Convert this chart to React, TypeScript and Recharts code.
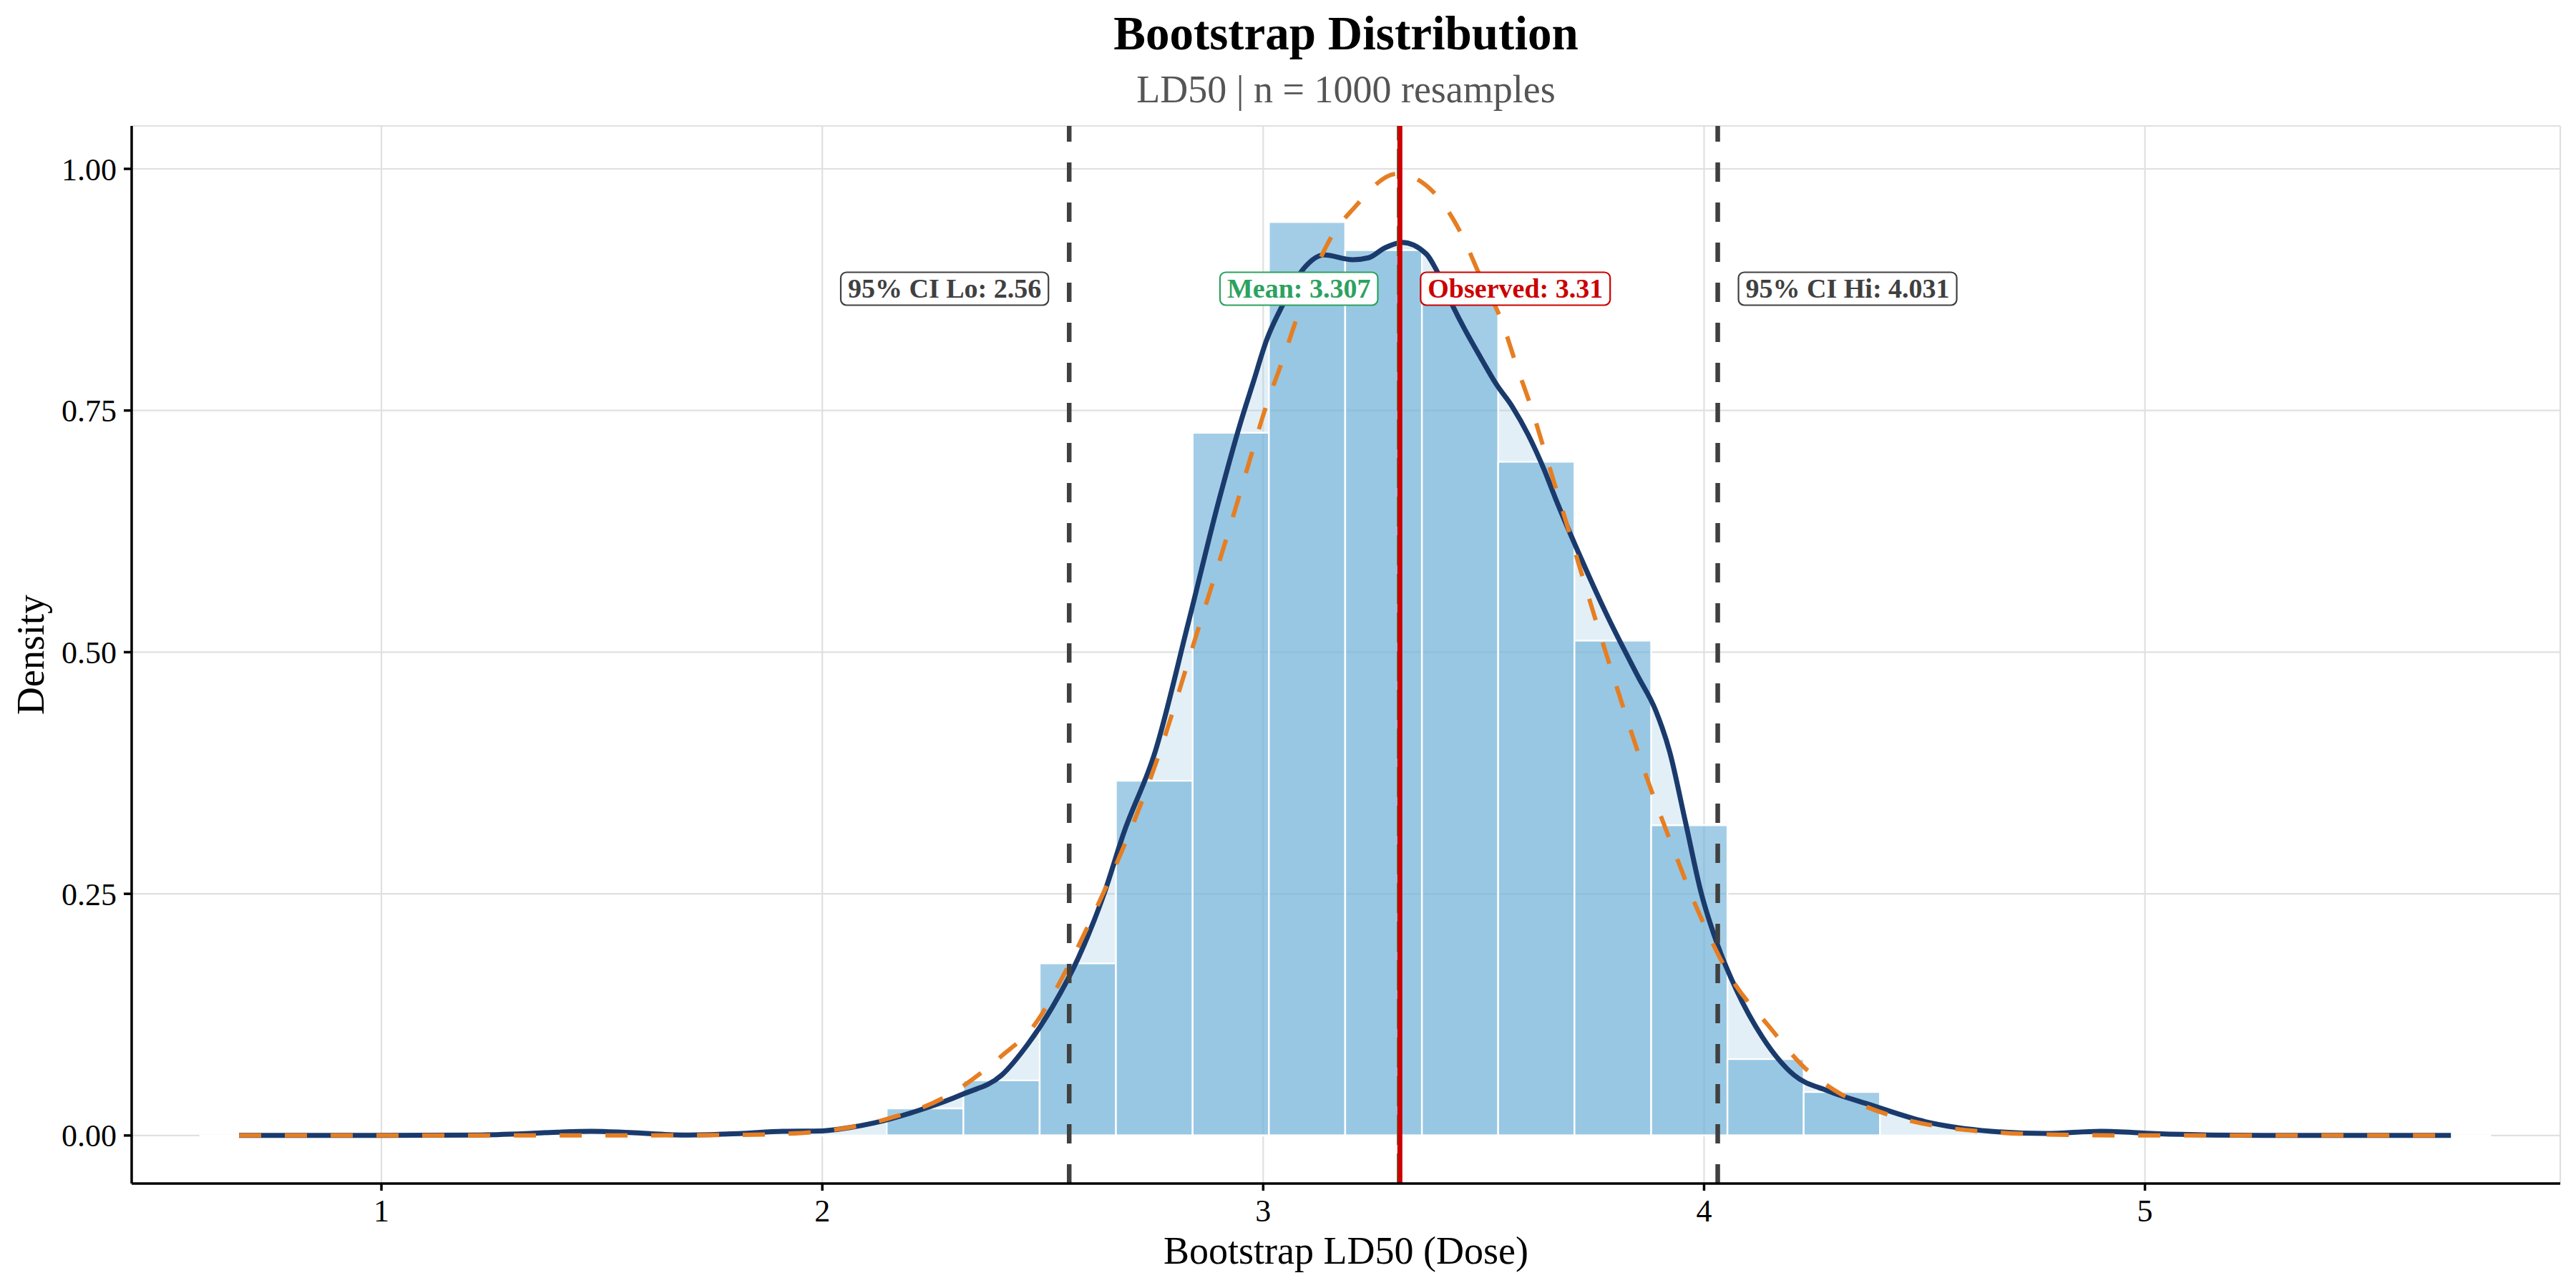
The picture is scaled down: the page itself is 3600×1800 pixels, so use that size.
import React from 'react';
import {
  ComposedChart,
  Line,
  Area,
  XAxis,
  YAxis,
  CartesianGrid,
  ReferenceLine,
  ReferenceArea,
  ReferenceDot,
} from 'recharts';

// ---------- data ----------
const xTicks = [1, 2, 3, 4, 5];
const yTicks = [0, 0.25, 0.5, 0.75, 1.0];
const xDomain = [0.4335, 5.942];
const yDomain = [-0.0497, 1.0444];

// histogram bins (edges) and densities
const binEdges = [2.146, 2.32, 2.493, 2.666, 2.84, 3.013, 3.186, 3.36, 3.533, 3.706, 3.88, 4.053, 4.226, 4.399];
const binDensity = [0.028, 0.057, 0.178, 0.367, 0.727, 0.945, 0.916, 0.866, 0.697, 0.512, 0.321, 0.079, 0.045];
const histRange = [0.587, 5.785];

// kernel density estimate
const kdeX = [0.677, 1.0, 1.215, 1.327, 1.4, 1.476, 1.563, 1.687, 1.811, 1.911, 2.0, 2.06, 2.117, 2.219, 2.32, 2.407, 2.465, 2.522, 2.581, 2.639, 2.683, 2.755, 2.83, 2.899, 2.949, 2.978, 3.007, 3.044, 3.094, 3.138, 3.203, 3.239, 3.275, 3.315, 3.37, 3.391, 3.427, 3.456, 3.493, 3.529, 3.565, 3.601, 3.638, 3.663, 3.72, 3.78, 3.85, 3.89, 3.922, 3.957, 3.994, 4.03, 4.074, 4.132, 4.204, 4.279, 4.378, 4.502, 4.651, 4.775, 4.9, 5.023, 5.148, 5.3, 5.694];
const kdeY = [0, 0, 0.0005, 0.002, 0.0035, 0.0044, 0.003, 0.0005, 0.002, 0.0044, 0.0048, 0.008, 0.0129, 0.026, 0.043, 0.0625, 0.0937, 0.133, 0.184, 0.25, 0.312, 0.397, 0.53, 0.656, 0.738, 0.78, 0.822, 0.859, 0.898, 0.911, 0.906, 0.908, 0.918, 0.924, 0.912, 0.897, 0.861, 0.835, 0.805, 0.777, 0.754, 0.725, 0.688, 0.659, 0.598, 0.538, 0.475, 0.44, 0.397, 0.326, 0.25, 0.198, 0.15, 0.102, 0.0625, 0.0465, 0.0316, 0.0143, 0.0044, 0.0021, 0.0044, 0.002, 0.0005, 0, 0];

// normal reference curve
const normX = [0.677, 1.5, 1.8, 1.9, 2.0, 2.146, 2.291, 2.407, 2.48, 2.552, 2.625, 2.683, 2.755, 2.85, 2.942, 2.971, 3.007, 3.044, 3.079, 3.159, 3.203, 3.304, 3.384, 3.449, 3.493, 3.544, 3.572, 3.608, 3.645, 3.673, 3.77, 3.871, 3.929, 3.986, 4.059, 4.146, 4.233, 4.266, 4.353, 4.452, 4.551, 4.663, 4.775, 5.0, 5.694];
const normY = [0, 0, 0.0006, 0.0015, 0.0044, 0.017, 0.043, 0.0824, 0.1136, 0.17, 0.2385, 0.298, 0.383, 0.52, 0.656, 0.701, 0.755, 0.802, 0.849, 0.933, 0.958, 0.995, 0.977, 0.933, 0.888, 0.839, 0.8, 0.753, 0.698, 0.656, 0.51, 0.369, 0.298, 0.2326, 0.1646, 0.1136, 0.068, 0.056, 0.0328, 0.017, 0.008, 0.0032, 0.001, 0, 0];

const ciLo = 2.56;
const ciHi = 4.031;
const meanVal = 3.307;
const observedVal = 3.31;
const labelLevel = 0.876;

const labels = [
  { x: ciLo, text: '95% CI Lo: 2.56', color: '#404040', side: 'left' },
  { x: meanVal, text: 'Mean: 3.307', color: '#2ca25f', side: 'left' },
  { x: observedVal, text: 'Observed: 3.31', color: '#cc0000', side: 'right' },
  { x: ciHi, text: '95% CI Hi: 4.031', color: '#404040', side: 'right' },
];

const kdeData = kdeX.map((x, i) => ({ x, d: kdeY[i] }));
const normData = normX.map((x, i) => ({ x, d: normY[i] }));
const bins = binDensity.map((d, i) => ({ x1: binEdges[i], x2: binEdges[i + 1], d }));

const FONT = "'Liberation Serif', 'Times New Roman', serif";

let ctx: CanvasRenderingContext2D | null = null;
function measure(text: string, font: string, fallback: number) {
  try {
    if (!ctx) ctx = document.createElement('canvas').getContext('2d');
    if (ctx) {
      ctx.font = font;
      return ctx.measureText(text).width;
    }
  } catch (e) {}
  return fallback;
}

function LabelBox(props: any) {
  const { cx, cy, text, color, side } = props;
  if (cx == null || cy == null) return null;
  const fs = 38;
  const tw = measure(text, `bold ${fs}px 'Liberation Serif'`, text.length * fs * 0.5);
  const w = tw + 20;
  const h = 46;
  const gap = 29;
  const x = side === 'left' ? cx - gap - w : cx + gap;
  return (
    <g>
      <rect x={x} y={cy - h / 2} width={w} height={h} rx={8} ry={8} fill="#ffffff" stroke={color} strokeWidth={2.2} />
      <text x={x + w / 2} y={cy + 13} textAnchor="middle" fontFamily={FONT} fontWeight="bold" fontSize={fs} fill={color}>
        {text}
      </text>
    </g>
  );
}

const XTitle = (props: any) => {
  const vb = props.viewBox || { x: 184, y: 1654, width: 3394, height: 146 };
  return (
    <text x={vb.x + vb.width / 2} y={vb.y + 112} textAnchor="middle" fontFamily={FONT} fontSize={54} fill="#000">
      Bootstrap LD50 (Dose)
    </text>
  );
};

const YTitle = (props: any) => {
  const vb = props.viewBox || { x: 0, y: 176, width: 184, height: 1478 };
  const cx = vb.x + 61;
  const cy = vb.y + vb.height / 2;
  return (
    <text x={cx} y={cy} transform={`rotate(-90, ${cx}, ${cy})`} textAnchor="middle" fontFamily={FONT} fontSize={54} fill="#000">
      Density
    </text>
  );
};

export default function App() {
  return (
    <div style={{ position: 'absolute', left: 0, top: 0, width: 3600, height: 1800, background: '#ffffff' }}>
      <ComposedChart
        width={3600}
        height={1800}
        margin={{ top: 176, right: 22, bottom: 0, left: 0 }}
        style={{ fontFamily: FONT }}
      >
        <CartesianGrid stroke="#e0e0e0" strokeWidth={2.2} />
        <XAxis
          type="number"
          dataKey="x"
          domain={xDomain}
          ticks={xTicks}
          allowDataOverflow
          height={146}
          tickSize={10}
          tickMargin={12}
          axisLine={{ stroke: '#000', strokeWidth: 3.5 }}
          tickLine={{ stroke: '#000', strokeWidth: 3.5 }}
          tick={{ fontFamily: FONT, fontSize: 44, fill: '#000' }}
          label={XTitle}
        />
        <YAxis
          type="number"
          domain={yDomain}
          ticks={yTicks}
          allowDataOverflow
          width={184}
          tickSize={11}
          tickMargin={10}
          tickFormatter={(v: number) => v.toFixed(2)}
          axisLine={{ stroke: '#000', strokeWidth: 3.5 }}
          tickLine={{ stroke: '#000', strokeWidth: 3.5 }}
          tick={{ fontFamily: FONT, fontSize: 44, fill: '#000' }}
          label={YTitle}
        />
        <ReferenceLine
          segment={[{ x: histRange[0], y: 0 }, { x: histRange[1], y: 0 }]}
          stroke="#ffffff"
          strokeWidth={2.6}
        />
        <Area
          data={kdeData}
          dataKey="d"
          type="monotone"
          stroke="none"
          fill="#9ecae1"
          fillOpacity={0.3}
          isAnimationActive={false}
          dot={false}
          activeDot={false}
        />
        {bins.map((b, i) => (
          <ReferenceArea
            key={i}
            x1={b.x1}
            x2={b.x2}
            y1={0}
            y2={b.d}
            fill="#6baed6"
            fillOpacity={0.62}
            stroke="#ffffff"
            strokeWidth={2.4}
            strokeOpacity={1}
          />
        ))}
        <Line
          data={kdeData}
          dataKey="d"
          type="monotone"
          stroke="#1a3a6c"
          strokeWidth={7}
          dot={false}
          activeDot={false}
          isAnimationActive={false}
        />
        <Line
          data={normData}
          dataKey="d"
          type="monotone"
          stroke="#e67e22"
          strokeWidth={6}
          strokeDasharray="31 33"
          dot={false}
          activeDot={false}
          isAnimationActive={false}
        />
        <ReferenceLine x={ciLo} stroke="#404040" strokeWidth={6.5} strokeDasharray="27 29" />
        <ReferenceLine x={ciHi} stroke="#404040" strokeWidth={6.5} strokeDasharray="27 29" />
        <ReferenceLine x={meanVal} stroke="#2ca25f" strokeWidth={5} strokeDasharray="42 12" />
        <ReferenceLine x={observedVal} stroke="#cc0000" strokeWidth={7} />
        {labels.map((l, i) => (
          <ReferenceDot
            key={'lab' + i}
            x={l.x}
            y={labelLevel}
            r={1}
            shape={(p: any) => <LabelBox cx={p.cx} cy={p.cy} text={l.text} color={l.color} side={l.side} />}
          />
        ))}
      </ComposedChart>
      <svg
        width={3600}
        height={170}
        style={{ position: 'absolute', left: 0, top: 0, pointerEvents: 'none' }}
      >
        <text x={1881} y={69} textAnchor="middle" fontFamily={FONT} fontWeight="bold" fontSize={67} fill="#000">
          Bootstrap Distribution
        </text>
        <text x={1881} y={143} textAnchor="middle" fontFamily={FONT} fontSize={54} fill="#555555">
          LD50 | n = 1000 resamples
        </text>
      </svg>
    </div>
  );
}
